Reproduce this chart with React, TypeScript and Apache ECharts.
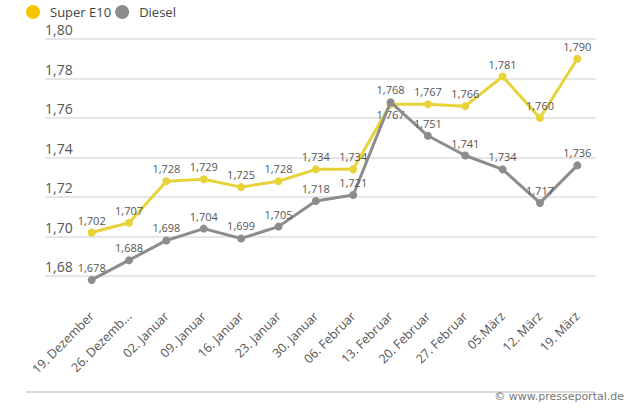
import React, { useEffect, useRef } from "react";
import * as echarts from "echarts";

const categories = [
  "19. Dezember",
  "26. Dezemb...",
  "02. Januar",
  "09. Januar",
  "16. Januar",
  "23. Januar",
  "30. Januar",
  "06. Februar",
  "13. Februar",
  "20. Februar",
  "27. Februar",
  "05.März",
  "12. März",
  "19. März",
];
const superE10 = [1.702, 1.707, 1.728, 1.729, 1.725, 1.728, 1.734, 1.734, 1.767, 1.767, 1.766, 1.781, 1.76, 1.79];
const diesel = [1.678, 1.688, 1.698, 1.704, 1.699, 1.705, 1.718, 1.721, 1.768, 1.751, 1.741, 1.734, 1.717, 1.736];
const yMin = 1.68;
const yMax = 1.8;
const yStep = 0.02;

const FONT = "'Open Sans', 'Noto Sans', sans-serif";
const YELLOW = "#E8D23A";
const YELLOW_LEGEND = "#F7C500";
const GRAY = "#8C8C8C";

const fmt3 = (v: number) => v.toFixed(3).replace(".", ",");
const fmt2 = (v: number) => v.toFixed(2).replace(".", ",");

export default function App() {
  const ref = useRef<HTMLDivElement>(null);
  useEffect(() => {
    if (!ref.current) return;
    const chart = echarts.init(ref.current, undefined, { renderer: "svg" });
    const labelBase = {
      show: true,
      position: "top",
      distance: 3,
      fontSize: 11,
      color: "#555",
      fontFamily: FONT,
      formatter: (p: any) => fmt3(p.value),
    };
    chart.setOption({
      animation: false,
      backgroundColor: "#fff",
      textStyle: { fontFamily: FONT },
      legend: {
        left: 21,
        top: 2,
        padding: [2, 5, 2, 5],
        itemWidth: 14,
        itemHeight: 14,
        itemGap: 4,
        icon: "circle",
        textStyle: {
          fontSize: 13,
          lineHeight: 16,
          color: "#444",
          fontFamily: FONT,
          padding: [0, 0, 0, 5],
        },
        data: [
          { name: "Super E10", itemStyle: { color: YELLOW_LEGEND } },
          { name: "Diesel", itemStyle: { color: GRAY } },
        ],
      },
      grid: [
        { left: 45, right: 34, top: 39, bottom: 136 },
        { left: 73, right: 34, top: 39, bottom: 136 },
      ],
      xAxis: [
        { gridIndex: 0, type: "value", show: false, min: 0, max: 1 },
        {
          gridIndex: 1,
          type: "category",
          data: categories,
          boundaryGap: true,
          axisLine: { show: false },
          axisTick: { show: false },
          axisLabel: {
            rotate: 45,
            margin: 38,
            fontSize: 12.5,
            color: "#555",
            fontFamily: FONT,
            interval: 0,
          },
        },
      ],
      yAxis: [
        {
          gridIndex: 0,
          type: "value",
          min: yMin,
          max: yMax,
          interval: yStep,
          axisLine: { show: false },
          axisTick: { show: false },
          splitLine: { lineStyle: { color: "#dedede", width: 1.5 } },
          axisLabel: {
            inside: true,
            margin: 0,
            verticalAlign: "bottom",
            align: "left",
            fontSize: 14,
            lineHeight: 15,
            color: "#555",
            fontFamily: FONT,
            padding: [0, 0, 2, 0],
            formatter: (v: number) => fmt2(v),
          },
        },
        {
          gridIndex: 1,
          type: "value",
          min: yMin,
          max: yMax,
          interval: yStep,
          show: false,
          splitLine: { show: false },
        },
      ],
      series: [
        {
          name: "Super E10",
          type: "line",
          xAxisIndex: 1,
          yAxisIndex: 1,
          clip: false,
          data: superE10.map((v, i) =>
            i === 8 ? { value: v, label: { position: "bottom", distance: 1 } } : v
          ),
          symbol: "circle",
          symbolSize: 8,
          lineStyle: { color: YELLOW, width: 3 },
          itemStyle: { color: YELLOW },
          label: labelBase,
          z: 2,
        },
        {
          name: "Diesel",
          type: "line",
          xAxisIndex: 1,
          yAxisIndex: 1,
          clip: false,
          data: diesel,
          symbol: "circle",
          symbolSize: 8,
          lineStyle: { color: GRAY, width: 3 },
          itemStyle: { color: GRAY },
          label: labelBase,
          z: 3,
        },
      ],
      graphic: [
        {
          type: "line",
          shape: { x1: 26, y1: 392, x2: 595, y2: 392 },
          style: { stroke: "#cfcfcf", lineWidth: 1.5 },
        },
        {
          type: "text",
          right: 6,
          top: 391,
          style: {
            text: "© www.presseportal.de",
            font: "11px 'DejaVu Sans', sans-serif",
            fill: "#777",
          },
        },
      ],
    });
    return () => chart.dispose();
  }, []);
  return (
    <div
      ref={ref}
      style={{ position: "absolute", left: 0, top: 0, width: 630, height: 412 }}
    />
  );
}
